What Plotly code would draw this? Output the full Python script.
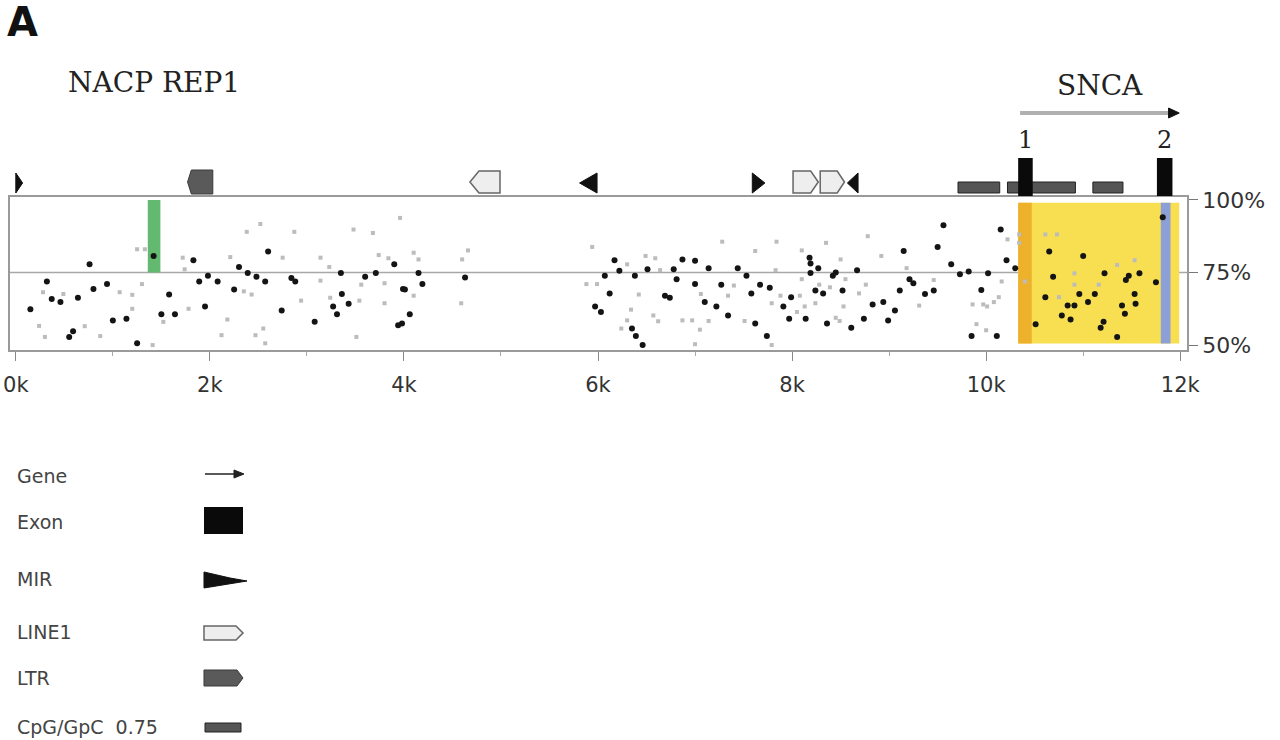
import plotly.graph_objects as go

# CpG methylation calls: position (bp) and % methylated
dark_pos = [1420, 760, 320, 370, 460, 640, 800, 940, 150, 550, 590, 1000, 1140, 1250, 1500, 1640, 1580, 1950, 1830, 1890,
            1980, 2600, 3900, 2300, 2390, 2080, 2480, 2570, 2840, 2880, 3350, 3600, 3710, 3990, 2250, 2740, 3360, 3430, 3270, 3310,
            3080, 3940, 4150, 4630, 4010, 4190, 4060, 3980, 5970, 6170, 6870, 7000, 6220, 6070, 6380, 6510, 6780, 6810, 7140, 7440,
            7530, 7000, 7270, 7670, 7770, 6120, 6690, 6740, 7100, 7580, 7910, 7990, 6030, 7220, 7340, 7620, 7970, 6350, 6390, 7740,
            6460, 9560, 9500, 9150, 8180, 8190, 8270, 8190, 8670, 8420, 8450, 9640, 9730, 9820, 10020, 9210, 9250, 8240, 8320, 8520,
            9110, 9370, 9460, 8830, 8940, 9060, 9950, 8140, 8740, 8990, 8360, 8610, 9850, 11820, 10150, 10650, 11000, 10210, 10300, 10690,
            11220, 11470, 11580, 11440, 11750, 10610, 10960, 11120, 11530, 10840, 10910, 11050, 11400, 11540, 11430, 10780, 10870, 10510, 11210, 11180,
            11350, 10110]
dark_pct = [80.7, 77.8, 71.9, 65.9, 64.8, 66.3, 69.3, 71.0, 62.3, 52.8, 54.8, 58.5, 59.1, 50.6, 60.6, 60.6, 67.4, 63.3, 79.2, 71.9,
            73.9, 82.2, 77.8, 76.9, 74.8, 71.9, 73.5, 71.9, 73.1, 71.9, 74.8, 73.5, 74.8, 69.3, 69.1, 61.9, 67.6, 64.2, 63.3, 60.6,
            58.0, 56.8, 74.8, 73.3, 69.1, 71.0, 60.6, 57.4, 63.3, 79.2, 79.5, 79.0, 75.6, 73.9, 73.9, 76.1, 76.1, 72.7, 76.5, 76.5,
            73.9, 71.0, 70.8, 70.8, 69.7, 67.8, 67.0, 66.3, 64.8, 67.8, 63.3, 66.5, 61.4, 63.3, 60.2, 57.4, 59.1, 55.7, 53.1, 53.1,
            50.0, 91.3, 83.8, 82.4, 80.1, 78.1, 76.5, 74.8, 75.8, 73.9, 75.0, 77.8, 74.4, 75.3, 74.7, 72.7, 71.3, 68.8, 67.8, 68.8,
            68.8, 67.6, 68.8, 64.0, 64.8, 61.9, 69.0, 59.1, 59.1, 58.5, 57.4, 56.0, 53.1, 94.0, 89.8, 82.2, 80.7, 79.2, 76.5, 73.5,
            74.7, 73.9, 74.7, 72.4, 71.6, 66.5, 67.6, 67.6, 67.6, 63.6, 63.6, 64.8, 63.6, 64.2, 60.8, 60.2, 58.8, 57.2, 58.0, 56.0,
            52.8, 53.1]

light_pos = [280, 490, 1070, 1200, 1300, 240, 300, 710, 870, 1200, 1410, 1780, 1520, 1250, 1330, 1720, 1740, 2520, 2380, 2870,
             3480, 3680, 3960, 2210, 2750, 3140, 3230, 3740, 3840, 3140, 3560, 3800, 2350, 2430, 2940, 3240, 3540, 3800, 2180, 2120,
             2470, 2550, 2570, 3510, 4100, 4150, 4660, 4600, 5940, 4100, 4590, 5880, 7280, 7840, 7620, 6490, 6300, 6590, 6640, 7830,
             5990, 7400, 6420, 7060, 7340, 7880, 6340, 7790, 6570, 6300, 6620, 6870, 6970, 7140, 7510, 6240, 7050, 7000, 7790, 8780,
             8350, 8100, 8920, 8500, 9180, 8100, 9460, 8280, 8390, 8550, 8760, 8690, 8080, 8130, 8240, 8530, 9310, 8050, 9860, 9970,
             8450, 8490, 9900, 10000, 10220, 10340, 10340, 10610, 10730, 11530, 11350, 10160, 10400, 10910, 10910, 11160, 10750, 10010, 10080, 10130]
light_pct = [68.2, 67.6, 68.2, 67.3, 71.0, 56.6, 52.8, 56.5, 53.1, 62.5, 50.0, 62.5, 58.0, 83.0, 83.0, 80.1, 76.1, 91.7, 89.0, 89.0,
             89.8, 88.6, 93.8, 80.3, 80.1, 80.1, 76.9, 81.0, 79.9, 72.2, 70.8, 71.3, 68.5, 67.4, 65.3, 66.3, 65.3, 64.4, 58.8, 53.4,
             53.4, 55.7, 50.6, 52.8, 81.8, 79.5, 82.6, 79.5, 83.8, 67.0, 64.4, 71.0, 85.6, 85.6, 82.4, 80.7, 77.8, 79.9, 75.8, 75.8,
             71.0, 70.5, 67.4, 67.6, 67.0, 67.0, 62.2, 64.4, 60.2, 58.5, 58.2, 58.5, 58.5, 58.3, 58.3, 55.7, 55.3, 50.3, 50.0, 87.5,
             85.2, 82.6, 80.7, 79.5, 76.5, 72.7, 72.4, 70.8, 69.9, 72.7, 70.8, 67.8, 67.0, 63.3, 64.4, 63.3, 63.6, 61.4, 64.0, 64.0,
             59.4, 58.3, 57.2, 55.1, 86.4, 88.1, 85.2, 88.1, 88.1, 79.2, 77.6, 71.9, 71.9, 74.7, 70.8, 70.8, 66.5, 63.3, 64.8, 66.5]

# repeat / feature annotation (bp)
mir_start = [0, 5810, 7590, 8570]
mir_end = [70, 5990, 7720, 8680]
mir_strand = [1, -1, 1, -1]
line1_start = [4680, 8010, 8290]
line1_end = [4990, 8270, 8540]
line1_strand = [-1, 1, 1]
ltr_start = [1770]
ltr_end = [2030]
cpg_start = [9710, 10220, 11100]
cpg_end = [10140, 10920, 11410]
exon_start = [10330, 11760]
exon_end = [10480, 11920]
exon_label = ["1", "2"]
gene_name = "SNCA"
gene_start = 10350
gene_end = 11990
rep_name = "NACP REP1"
rep_pos = 1420

# highlighted regions
hl_start = [1360, 10330, 10330, 11800]
hl_end = [1490, 11990, 10470, 11900]
hl_low = [75, 50.5, 50.5, 50.5]
hl_high = [100, 99, 99, 99]
hl_color = ["#62b96f", "#f8df52", "#edb12c", "#8c9fd6"]

x_ticks = [0, 2000, 4000, 6000, 8000, 10000, 12000]
x_labels = ["0k", "2k", "4k", "6k", "8k", "10k", "12k"]
y_ticks = [50, 75, 100]
y_labels = ["50%", "75%", "100%"]

W, H = 1280, 740
def px(x):
    return x / W
def py(y):
    return 1 - y / H

fig = go.Figure()
fig.add_trace(go.Scatter(x=light_pos, y=light_pct, mode="markers",
                         marker=dict(symbol="square", size=4, color="#bcbcbc"), hoverinfo="x+y"))
fig.add_trace(go.Scatter(x=dark_pos, y=dark_pct, mode="markers",
                         marker=dict(symbol="circle", size=6, color="#141414"), hoverinfo="x+y"))
fig.add_trace(go.Scatter(x=[None], y=[None], yaxis="y2", showlegend=False, hoverinfo="skip"))

shapes = []
for s, e, lo, hi, c in zip(hl_start, hl_end, hl_low, hl_high, hl_color):
    shapes.append(dict(type="rect", xref="x", yref="y", x0=s, x1=e, y0=lo, y1=hi,
                       fillcolor=c, line=dict(width=0), layer="below"))
shapes.append(dict(type="line", xref="x domain", yref="y", x0=0, x1=1, y0=75, y1=75,
                   line=dict(color="#a8a8a8", width=1.5), layer="below"))

# feature track (y2 units = pixels above the baseline)
for s, e, d in zip(mir_start, mir_end, mir_strand):
    if d > 0:
        path = f"M{s},3 L{s},23 L{e},13 Z"
    else:
        path = f"M{e},3 L{e},23 L{s},13 Z"
    shapes.append(dict(type="path", xref="x", yref="y2", path=path,
                       fillcolor="#111", line=dict(color="#111", width=1)))
for s, e, d in zip(line1_start, line1_end, line1_strand):
    t = (e - s) * 0.3
    if d > 0:
        path = f"M{s},3 L{s},25 L{e - t},25 L{e},14 L{e - t},3 Z"
    else:
        path = f"M{e},3 L{e},25 L{s + t},25 L{s},14 L{s + t},3 Z"
    shapes.append(dict(type="path", xref="x", yref="y2", path=path,
                       fillcolor="#eeeeee", line=dict(color="#666", width=1.5)))
for s, e in zip(ltr_start, ltr_end):
    t = (e - s) * 0.15
    path = f"M{e},2 L{e},26 L{s + t},26 L{s},14 L{s + t},2 Z"
    shapes.append(dict(type="path", xref="x", yref="y2", path=path,
                       fillcolor="#5a5a5a", line=dict(color="#3a3a3a", width=1)))
for s, e in zip(cpg_start, cpg_end):
    shapes.append(dict(type="rect", xref="x", yref="y2", x0=s, x1=e, y0=3, y1=14,
                       fillcolor="#555", line=dict(color="#222", width=1)))
for s, e in zip(exon_start, exon_end):
    shapes.append(dict(type="rect", xref="x", yref="y2", x0=s, x1=e, y0=0, y1=38,
                       fillcolor="#0a0a0a", line=dict(width=0)))
shapes.append(dict(type="line", xref="x", yref="y2", x0=gene_start, x1=gene_end - 90, y0=83, y1=83,
                   line=dict(color="#b0b0b0", width=4)))
shapes.append(dict(type="path", xref="x", yref="y2",
                   path=f"M{gene_end - 110},78 L{gene_end - 110},88 L{gene_end},83 Z",
                   fillcolor="#111", line=dict(color="#111", width=1)))

annotations = [
    dict(text="<b>A</b>", x=px(22), y=py(22), xref="paper", yref="paper", showarrow=False,
         xanchor="center", yanchor="middle",
         font=dict(family="DejaVu Sans", size=40, color="#111")),
    dict(text=rep_name, x=rep_pos, y=114, xref="x", yref="y2", showarrow=False,
         font=dict(family="DejaVu Serif", size=28, color="#222")),
    dict(text=gene_name, x=(gene_start + gene_end) / 2, y=111, xref="x", yref="y2", showarrow=False,
         font=dict(family="DejaVu Serif", size=28, color="#222")),
]
for s, e, lab in zip(exon_start, exon_end, exon_label):
    annotations.append(dict(text=lab, x=(s + e) / 2, y=56, xref="x", yref="y2", showarrow=False,
                            font=dict(family="DejaVu Serif", size=24, color="#222")))

# key at the bottom left
key_labels = ["Gene", "Exon", "MIR", "LINE1", "LTR", "CpG/GpC  0.75"]
key_y = [476, 522, 579, 632, 678, 727]
for lab, yy in zip(key_labels, key_y):
    annotations.append(dict(text=lab, x=px(15), y=py(yy), xref="paper", yref="paper", showarrow=False,
                            xanchor="left", yanchor="middle",
                            font=dict(family="DejaVu Sans", size=19, color="#444")))
def ppath(pts):
    return "M" + " L".join(f"{px(a):.5f},{py(b):.5f}" for a, b in pts) + " Z"
shapes.append(dict(type="line", xref="paper", yref="paper", x0=px(205), x1=px(236), y0=py(474), y1=py(474),
                   line=dict(color="#222", width=1.5)))
shapes.append(dict(type="path", xref="paper", yref="paper", path=ppath([(234, 470), (244, 474), (234, 478)]),
                   fillcolor="#222", line=dict(color="#222", width=1)))
shapes.append(dict(type="rect", xref="paper", yref="paper", x0=px(204), x1=px(243), y0=py(534), y1=py(507),
                   fillcolor="#0a0a0a", line=dict(width=0)))
shapes.append(dict(type="path", xref="paper", yref="paper", path=ppath([(204, 572), (204, 588), (247, 581), (230, 578)]),
                   fillcolor="#111", line=dict(color="#111", width=1)))
shapes.append(dict(type="path", xref="paper", yref="paper",
                   path=ppath([(204, 626), (204, 640), (236, 640), (243, 633), (236, 626)]),
                   fillcolor="#eeeeee", line=dict(color="#666", width=1.5)))
shapes.append(dict(type="path", xref="paper", yref="paper",
                   path=ppath([(204, 670), (204, 686), (237, 686), (243, 678), (237, 670)]),
                   fillcolor="#5a5a5a", line=dict(color="#3a3a3a", width=1)))
shapes.append(dict(type="rect", xref="paper", yref="paper", x0=px(205), x1=px(241), y0=py(732), y1=py(723),
                   fillcolor="#555", line=dict(color="#222", width=1)))

fig.update_layout(
    template="none",
    width=W, height=H, autosize=False,
    margin=dict(l=0, r=0, t=0, b=0),
    paper_bgcolor="white", plot_bgcolor="rgba(0,0,0,0)",
    showlegend=False,
    shapes=shapes, annotations=annotations,
    xaxis=dict(domain=[px(10), px(1187)], range=[-60, 12070], automargin=False,
               tickmode="array", tickvals=x_ticks, ticktext=x_labels,
               ticks="outside", ticklen=9, tickcolor="#888", ticklabelstandoff=6,
               minor=dict(tickvals=[1000, 3000, 5000, 7000, 9000, 11000], ticks="outside", ticklen=4, tickcolor="#aaa"),
               showline=True, linecolor="#9a9a9a", linewidth=1.5, mirror=True,
               showgrid=False, zeroline=False,
               tickfont=dict(family="DejaVu Sans", size=21, color="#333")),
    yaxis=dict(domain=[py(350), py(197)], range=[48.3, 101], side="right", automargin=False,
               tickmode="array", tickvals=y_ticks, ticktext=y_labels,
               ticks="outside", ticklen=9, tickcolor="#777",
               showline=True, linecolor="#9a9a9a", linewidth=1.5, mirror=True,
               showgrid=False, zeroline=False,
               tickfont=dict(family="DejaVu Sans", size=22, color="#333")),
    yaxis2=dict(domain=[py(196), py(60)], range=[0, 136], anchor="x", automargin=False,
                visible=False, showgrid=False, zeroline=False),
)

fig.write_html("out.html", config={"displayModeBar": False},
               post_script="document.body.style.margin='0';")
